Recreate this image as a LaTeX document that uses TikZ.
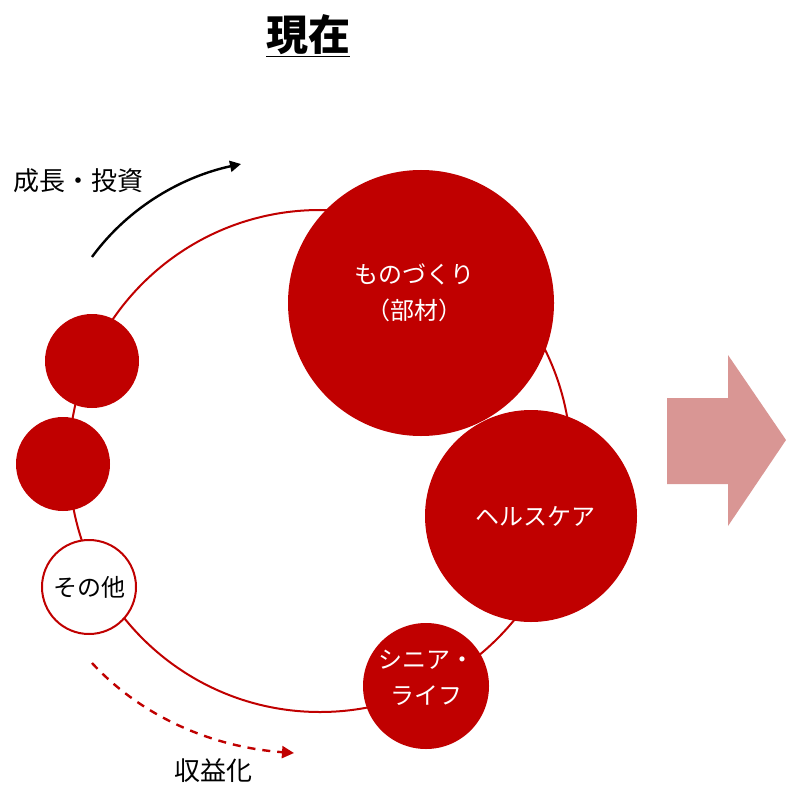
\documentclass[tikz,border=0pt]{standalone}
\usepackage{fontspec}
\setmainfont{Noto Sans CJK JP}
\usetikzlibrary{arrows.meta}
\definecolor{dred}{HTML}{C00000}
\definecolor{pinkarrow}{HTML}{D99694}
\begin{document}
\begin{tikzpicture}[x=1pt,y=-1pt,
  bub/.style={circle,fill=dred,draw=none,inner sep=0pt},
  btxt/.style={inner sep=0pt,text=white,align=center,font=\fontsize{24}{36}\selectfont},
  lbl/.style={inner sep=0pt,font=\fontsize{26}{30}\selectfont}]
\useasboundingbox (0,0) rectangle (786,786);
% ring
\node[circle,draw=dred,line width=2pt,minimum size=502pt,inner sep=0pt] (ring) at (320,461) {};
% bubbles
\node[bub,minimum size=266pt] (mono) at (421,303) {};
\node[btxt] (monot) at (414,293) {ものづくり\\（部材）};
\node[bub,minimum size=212pt] (health) at (531,516) {};
\node[btxt] (healtht) at (535,516) {ヘルスケア};
\node[bub,minimum size=126pt] (senior) at (426,686) {};
\node[btxt] (seniort) at (426,678) {シニア・\\ライフ};
\node[bub,minimum size=94pt] (s1) at (92,361) {};
\node[bub,minimum size=94pt] (s2) at (63,464) {};
\node[circle,fill=white,draw=dred,line width=2pt,minimum size=94pt,inner sep=0pt,font=\fontsize{24}{28}\selectfont] (other) at (89,587) {その他};
% title
\node[inner sep=0pt,font=\fontsize{42}{46}\selectfont\bfseries] (title) at (308,36) {\underline{現在}};
% labels
\node[lbl,anchor=west] (grow) at (13,181) {成長・投資};
\node[lbl] (rev) at (213,771) {収益化};
% arrows
\coordinate (ga) at (92,257);
\coordinate (gb) at (241,164);
\draw[line width=2.4pt,-{Triangle[length=11pt,width=11pt]}] (ga) .. controls (130,205) and (185,176) .. (gb);
\coordinate (ra) at (92,663);
\coordinate (rb) at (294,753);
\draw[dred,line width=2.4pt,dash pattern=on 8pt off 7pt,-{Triangle[length=12pt,width=12pt]}] (ra) .. controls (140,715) and (210,747) .. (rb);
% big arrow
\fill[pinkarrow] (667,398) -- (728,398) -- (728,355) -- (786,440) -- (728,526) -- (728,484) -- (667,484) -- cycle;
\end{tikzpicture}
\end{document}
